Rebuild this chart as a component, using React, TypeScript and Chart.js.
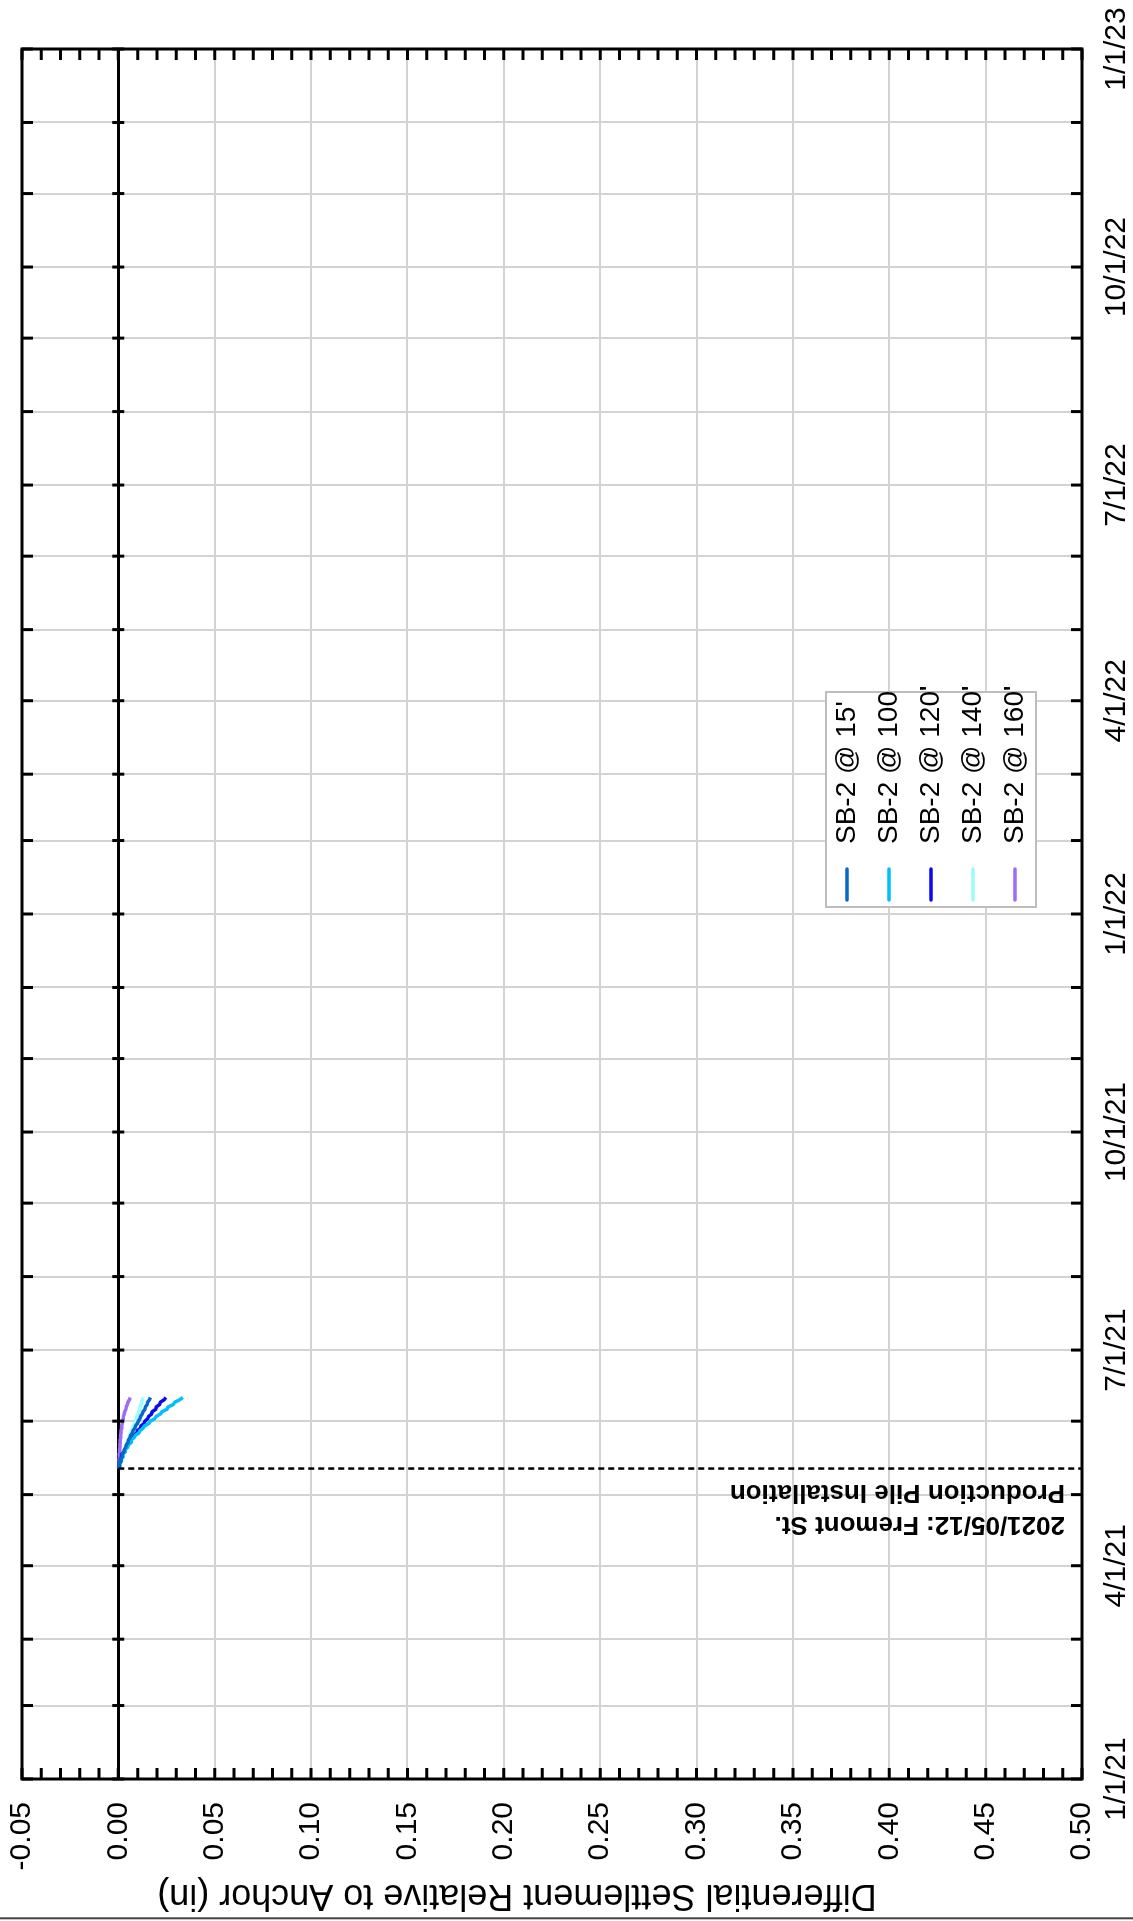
import React, { useEffect, useRef } from 'react';
import { Chart, registerables } from 'chart.js';

Chart.register(...registerables);

const FONT = "'Liberation Sans', Arial, Helvetica, sans-serif";

// ---------------- data ----------------
const readingDates = [
  '2021-05-12', '2021-05-13', '2021-05-14', '2021-05-15', '2021-05-16', '2021-05-17', '2021-05-18',
  '2021-05-19', '2021-05-20', '2021-05-21', '2021-05-22', '2021-05-23', '2021-05-24', '2021-05-25',
  '2021-05-26', '2021-05-27', '2021-05-28', '2021-05-29', '2021-05-30', '2021-05-31', '2021-06-01',
  '2021-06-02', '2021-06-03', '2021-06-04', '2021-06-05', '2021-06-06', '2021-06-07', '2021-06-08',
  '2021-06-09', '2021-06-10', '2021-06-11',
];

const sb2At15 = [
  0.0, 0.0006, 0.0005, 0.0013, 0.0012, 0.0021, 0.0019, 0.0029, 0.0031, 0.0038, 0.0041, 0.005,
  0.0052, 0.006, 0.0064, 0.0073, 0.0076, 0.0086, 0.0089, 0.0099, 0.0103, 0.0112, 0.0115, 0.0124,
  0.0128, 0.0138, 0.014, 0.0149, 0.0152, 0.0161, 0.0166,
];
const sb2At100 = [
  0.0, 0.0008, 0.0006, 0.0015, 0.0013, 0.0024, 0.0022, 0.0035, 0.0034, 0.0048, 0.0052, 0.0066,
  0.0065, 0.0081, 0.0088, 0.0106, 0.0112, 0.0128, 0.0136, 0.0158, 0.0166, 0.0188, 0.0196, 0.0218,
  0.0226, 0.0252, 0.0258, 0.0285, 0.0292, 0.0318, 0.0334,
];
const sb2At120 = [
  0.0, 0.0005, 0.0004, 0.0011, 0.001, 0.0018, 0.0017, 0.0029, 0.0033, 0.0043, 0.0047, 0.006,
  0.0063, 0.0077, 0.008, 0.0095, 0.0099, 0.0114, 0.0118, 0.0133, 0.0138, 0.0152, 0.0157, 0.0172,
  0.0176, 0.0194, 0.0197, 0.0214, 0.0218, 0.0237, 0.0247,
];
const sb2At140 = [
  0.0, 0.0008, 0.0009, 0.0017, 0.0017, 0.0024, 0.0025, 0.0031, 0.0033, 0.004, 0.0041, 0.0048,
  0.005, 0.0057, 0.0058, 0.0066, 0.0068, 0.0075, 0.0077, 0.0085, 0.0088, 0.0094, 0.0096, 0.0103,
  0.0105, 0.0111, 0.0112, 0.0119, 0.012, 0.0126, 0.0128,
];
const sb2At160 = [
  0.0, 0.0003, 0.0002, 0.0004, 0.0003, 0.0006, 0.0004, 0.0007, 0.0006, 0.0008, 0.0007, 0.001,
  0.0009, 0.0012, 0.0011, 0.0014, 0.0014, 0.0017, 0.0016, 0.002, 0.0021, 0.0025, 0.0026, 0.0031,
  0.0033, 0.0039, 0.0041, 0.0047, 0.005, 0.0057, 0.0061,
];

const seriesLabels = ["SB-2 @ 15'", 'SB-2 @ 100', "SB-2 @ 120'", "SB-2 @ 140'", "SB-2 @ 160'"];
const seriesValues = [sb2At15, sb2At100, sb2At120, sb2At140, sb2At160];
const seriesColors = ['#0868c8', '#00bfff', '#0a0af0', '#9cfcfc', '#9d6cf8'];

const xMinDate = '2021-01-01';
const xMaxDate = '2023-01-01';
const xTickDates = [
  '2021-01-01', '2021-02-01', '2021-03-01', '2021-04-01', '2021-05-01', '2021-06-01', '2021-07-01',
  '2021-08-01', '2021-09-01', '2021-10-01', '2021-11-01', '2021-12-01', '2022-01-01', '2022-02-01',
  '2022-03-01', '2022-04-01', '2022-05-01', '2022-06-01', '2022-07-01', '2022-08-01', '2022-09-01',
  '2022-10-01', '2022-11-01', '2022-12-01', '2023-01-01',
];
const xTickLabels = [
  '1/1/21', '', '', '4/1/21', '', '', '7/1/21', '', '', '10/1/21', '', '', '1/1/22', '', '',
  '4/1/22', '', '', '7/1/22', '', '', '10/1/22', '', '', '1/1/23',
];
const yTickValues = [-0.05, 0, 0.05, 0.1, 0.15, 0.2, 0.25, 0.3, 0.35, 0.4, 0.45, 0.5];
const yMinorStep = 0.01;
const yAxisTitle = 'Differential Settlement Relative to Anchor (in)';

const annotationDate = '2021-05-12';
const annotationText = ['2021/05/12: Fremont St.', 'Production Pile Installation'];

// ---------------- layout constants ----------------
const CANVAS_W = 1921;
const CANVAS_H = 1133;
const LEGEND_LEFT = 1005;
const LEGEND_TOP = 819;

const toTime = (d: string) => Date.parse(d);

function makeLegendLine(color: string): HTMLCanvasElement {
  const c = document.createElement('canvas');
  c.width = 44;
  c.height = 6;
  const g = c.getContext('2d')!;
  g.strokeStyle = color;
  g.lineWidth = 3.5;
  g.lineCap = 'round';
  g.beginPath();
  g.moveTo(2, 3);
  g.lineTo(33, 3);
  g.stroke();
  return c;
}

const zeroScalePadding = (scale: any) => {
  scale.paddingTop = 0;
  scale.paddingBottom = 0;
  scale.paddingLeft = 0;
  scale.paddingRight = 0;
};

const decorPlugin = {
  id: 'decor',
  afterLayout(chart: any) {
    const lg = chart.legend;
    if (lg) {
      lg.left = LEGEND_LEFT;
      lg.top = LEGEND_TOP;
      lg.right = LEGEND_LEFT + 240;
      lg.bottom = LEGEND_TOP + 240;
    }
  },
  afterDraw(chart: any) {
    const { ctx, chartArea: a } = chart;
    const xs = chart.scales.x;
    const ys = chart.scales.y;
    ctx.save();

    // annotation line
    const ax = xs.getPixelForValue(toTime(annotationDate));
    const y0 = ys.getPixelForValue(0);
    ctx.strokeStyle = '#000';
    ctx.lineWidth = 2.5;
    ctx.setLineDash([6, 4]);
    ctx.beginPath();
    ctx.moveTo(ax, y0);
    ctx.lineTo(ax, a.bottom);
    ctx.stroke();
    ctx.setLineDash([]);

    // annotation text
    ctx.save();
    ctx.translate(ax, a.bottom - 17);
    ctx.rotate(-Math.PI / 2);
    ctx.font = `bold 26px ${FONT}`;
    ctx.fillStyle = '#000';
    ctx.textAlign = 'left';
    ctx.textBaseline = 'middle';
    ctx.fillText(annotationText[0], 0, -56);
    ctx.fillText(annotationText[1], 0, -24);
    ctx.restore();

    // frame
    ctx.strokeStyle = '#000';
    ctx.lineWidth = 3;
    ctx.strokeRect(a.left, a.top, a.right - a.left, a.bottom - a.top);

    // month ticks (inward) and crossing ticks on the zero line
    ctx.lineWidth = 3;
    ctx.beginPath();
    for (const d of xTickDates) {
      const px = xs.getPixelForValue(toTime(d));
      ctx.moveTo(px, a.top);
      ctx.lineTo(px, a.top + 11);
      ctx.moveTo(px, a.bottom);
      ctx.lineTo(px, a.bottom - 11);
      ctx.moveTo(px, y0 - 6);
      ctx.lineTo(px, y0 + 6);
    }
    // minor value ticks every 0.01 on left and right edges
    const minV = yTickValues[0];
    const maxV = yTickValues[yTickValues.length - 1];
    const n = Math.round((maxV - minV) / yMinorStep);
    for (let i = 0; i <= n; i++) {
      const py = ys.getPixelForValue(minV + i * yMinorStep);
      ctx.moveTo(a.left, py);
      ctx.lineTo(a.left + 11, py);
      ctx.moveTo(a.right, py);
      ctx.lineTo(a.right - 11, py);
    }
    ctx.stroke();

    // page edge line
    ctx.fillStyle = '#444';
    ctx.fillRect(1.7, 0, 2, CANVAS_H);

    // legend frame (drawn over the grid) and legend on top
    const lg = chart.legend;
    if (lg) {
      ctx.fillStyle = '#fff';
      ctx.fillRect(LEGEND_LEFT + 9, LEGEND_TOP + 7, 215, 210);
      ctx.strokeStyle = '#bdbdbd';
      ctx.lineWidth = 2;
      ctx.strokeRect(LEGEND_LEFT + 9, LEGEND_TOP + 7, 215, 210);
      ctx.restore();
      lg.draw();
      return;
    }
    ctx.restore();
  },
};

export default function App() {
  const canvasRef = useRef<HTMLCanvasElement>(null);

  useEffect(() => {
    const canvas = canvasRef.current;
    if (!canvas) return;
    const legendLines = seriesColors.map(makeLegendLine);
    const labelByTime = new Map<number, string>();
    xTickDates.forEach((d, i) => labelByTime.set(toTime(d), xTickLabels[i]));

    const datasets = seriesLabels.map((label, i) => ({
      label,
      data: readingDates.map((d, j) => ({ x: toTime(d), y: seriesValues[i][j] })),
      borderColor: seriesColors[i],
      backgroundColor: seriesColors[i],
      borderWidth: 3.5,
      pointRadius: 0,
      pointHoverRadius: 0,
      pointStyle: legendLines[i],
      tension: 0,
      fill: false,
    }));

    const gridGray = '#d3d3d3';

    const chart = new Chart(canvas, {
      type: 'line',
      data: { datasets },
      plugins: [decorPlugin],
      options: {
        responsive: false,
        animation: false,
        events: [],
        layout: { padding: { top: 22, right: 49, bottom: 0, left: 0 } },
        plugins: {
          tooltip: { enabled: false },
          legend: {
            display: true,
            position: 'chartArea',
            align: 'start',
            labels: {
              usePointStyle: true,
              pointStyleWidth: 44,
              padding: 14,
              color: '#000',
              font: { family: FONT, size: 28 },
            },
          },
        },
        scales: {
          x: {
            type: 'linear',
            min: toTime(xMinDate),
            max: toTime(xMaxDate),
            afterBuildTicks: (scale: any) => {
              scale.ticks = xTickDates.map((d) => ({ value: toTime(d) }));
            },
            afterFit: (scale: any) => {
              scale.height = 51;
              zeroScalePadding(scale);
            },
            ticks: {
              autoSkip: false,
              maxRotation: 0,
              minRotation: 0,
              padding: 17,
              color: '#000',
              font: { family: FONT, size: 30 },
              callback: (value: any) => labelByTime.get(Number(value)) ?? '',
            },
            grid: { color: gridGray, lineWidth: 2, drawTicks: false },
            border: { display: false },
          },
          y: {
            type: 'linear',
            reverse: true,
            min: yTickValues[0],
            max: yTickValues[yTickValues.length - 1],
            afterBuildTicks: (scale: any) => {
              scale.ticks = yTickValues.map((v) => ({ value: v }));
            },
            afterFit: (scale: any) => {
              scale.width = 142;
              zeroScalePadding(scale);
            },
            ticks: {
              padding: 23,
              color: '#000',
              font: { family: FONT, size: 30 },
              callback: (value: any) => Number(value).toFixed(2),
            },
            grid: {
              color: (c: any) => (c.tick && Math.abs(c.tick.value) < 1e-9 ? '#000' : gridGray),
              lineWidth: (c: any) => (c.tick && Math.abs(c.tick.value) < 1e-9 ? 3 : 2),
              drawTicks: false,
            },
            border: { display: false },
            title: {
              display: true,
              text: '       ' + yAxisTitle,
              color: '#000',
              font: { family: FONT, size: 36 },
              padding: { top: 4, bottom: 0 },
            },
          },
        },
      } as any,
    });

    return () => chart.destroy();
  }, []);

  return (
    <div
      style={{
        position: 'fixed',
        left: 0,
        top: 0,
        width: 1133,
        height: 1921,
        overflow: 'hidden',
        background: '#fff',
      }}
    >
      <div
        style={{
          position: 'absolute',
          left: 0,
          top: 0,
          width: CANVAS_W,
          height: CANVAS_H,
          transformOrigin: '0 0',
          transform: `translateY(${CANVAS_W}px) rotate(-90deg)`,
        }}
      >
        <canvas
          ref={canvasRef}
          width={CANVAS_W}
          height={CANVAS_H}
          style={{ display: 'block', width: CANVAS_W, height: CANVAS_H }}
        />
      </div>
    </div>
  );
}
